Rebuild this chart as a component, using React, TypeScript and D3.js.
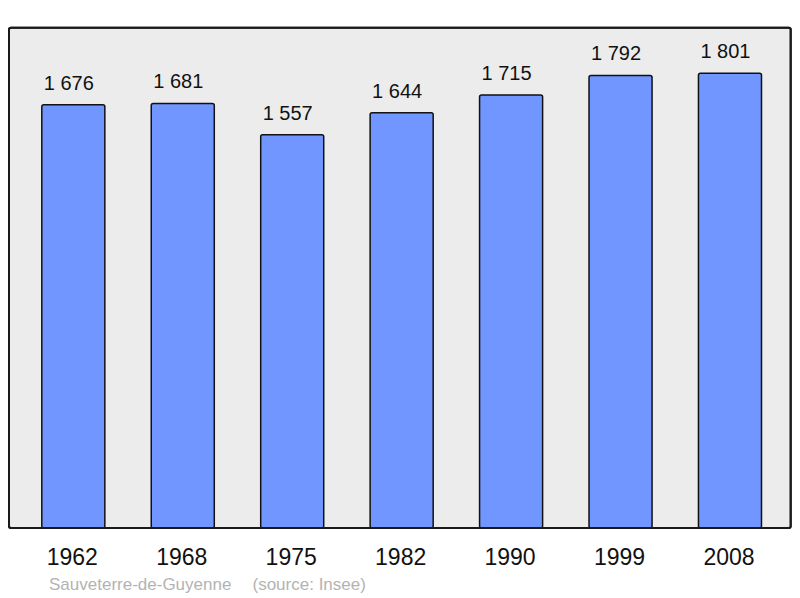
import React from "react";
import * as d3 from "d3";

const years = ["1962", "1968", "1975", "1982", "1990", "1999", "2008"];
const population = [1676, 1681, 1557, 1644, 1715, 1792, 1801];
const valueLabels = ["1 676", "1 681", "1 557", "1 644", "1 715", "1 792", "1 801"];
const commune = "Sauveterre-de-Guyenne";
const source = "(source: Insee)";

export default function App() {
  const W = 800, H = 598;
  const frame = { x: 9, y: 27.7, w: 781.7, h: 500.3 };
  const bottom = frame.y + frame.h;
  const x = d3.scaleBand<string>().domain(years).range([18.6, 784.7]).paddingInner(0.424).paddingOuter(0.212);
  const maxV = d3.max(population)! * 1.1;
  const y = d3.scaleLinear().domain([0, maxV]).range([bottom, frame.y]);
  const font = "'Liberation Sans', Arial, sans-serif";
  return (
    <svg width={W} height={H} style={{ position: "absolute", left: 0, top: 0 }} fontFamily={font}>
      <rect x={frame.x} y={frame.y} width={frame.w} height={frame.h} rx={2} fill="#ececec" stroke="#1a1a1a" strokeWidth={2} />
      {years.map((yr, i) => {
        const v = population[i];
        const bx = x(yr)!;
        const bw = x.bandwidth();
        return (
          <g key={yr}>
            <rect x={bx} y={y(v)} width={bw} height={bottom - y(v)} rx={2} fill="#7196ff" stroke="#111" strokeWidth={1.5} />
            <text x={bx + bw / 2 - 4.5} y={y(v) - 15} textAnchor="middle" fontSize={20} fill="#111">{valueLabels[i]}</text>
            <text x={bx + bw / 2 - 1} y={565} textAnchor="middle" fontSize={23} fill="#111">{yr}</text>
          </g>
        );
      })}
      <rect x={frame.x} y={frame.y} width={frame.w} height={frame.h} rx={2} fill="none" stroke="#1a1a1a" strokeWidth={2} />
      <text x={49} y={590} fontSize={17} fill="#b3b3b3">{commune}</text>
      <text x={252.5} y={590} fontSize={17} fill="#b3b3b3">{source}</text>
    </svg>
  );
}
